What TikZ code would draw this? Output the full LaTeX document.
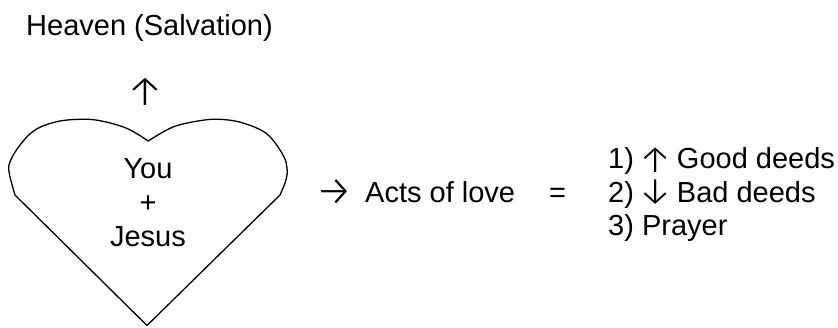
\documentclass[tikz,border=0pt]{standalone}
\usepackage{fontspec}
\setmainfont{Liberation Sans}
\newfontfamily\arrowfont{Fira Sans Light}
\newcommand{\arw}[2]{{\arrowfont\fontsize{#1}{#1}\selectfont #2}}
\newcommand{\inarw}[2]{\makebox[27pt]{\raisebox{#1}[0pt][0pt]{\arw{38}{#2}}}}
\begin{document}
\begin{tikzpicture}[x=1pt,y=-1pt,
  txt/.style={inner sep=0pt,font=\fontsize{29}{34}\selectfont},
  heartline/.style={line width=1.3pt,line join=round}]
\useasboundingbox (0,0) rectangle (838,327);
% heart
\draw[heartline] (15,195) -- (147,325.5) -- (280,195)
  -- plot[smooth,tension=0.6] coordinates {(280,195) (286,180) (287,168) (283,155) (267,134) (243,123) (220,119.3) (200,120.7) (173,127) (148.3,141)}
  -- plot[smooth,tension=0.6] coordinates {(148.3,141) (126.7,128.3) (100,120.7) (80,119.3) (56.7,121.7) (35,130) (20,145) (10,161.7) (9.3,173.3) (15,195)};
% texts
\node[txt,anchor=base west] (heaven) at (26,35) {Heaven (Salvation)};
\node[txt,anchor=center] (up) at (145,91.5) {\arw{42}{↑}};
\node[txt,anchor=base] (you) at (148,178) {You};
\node[txt,anchor=base] (plus) at (148,212) {+};
\node[txt,anchor=base] (jesus) at (148,246) {Jesus};
\node[txt,anchor=center] (arr) at (334.5,193) {\arw{42}{→}};
\node[txt,anchor=base west] (acts) at (365,202) {Acts of love};
\node[txt,anchor=base west] (eq) at (549,202) {=};
\node[txt,anchor=base west] (l1) at (608,168) {1)\hspace{8pt}\inarw{-4pt}{↑}\hspace{8pt}Good deeds};
\node[txt,anchor=base west] (l2) at (608,202) {2)\hspace{8pt}\inarw{-1.5pt}{↓}\hspace{8pt}Bad deeds};
\node[txt,anchor=base west] (l3) at (608,235.5) {3) Prayer};
\end{tikzpicture}
\end{document}
